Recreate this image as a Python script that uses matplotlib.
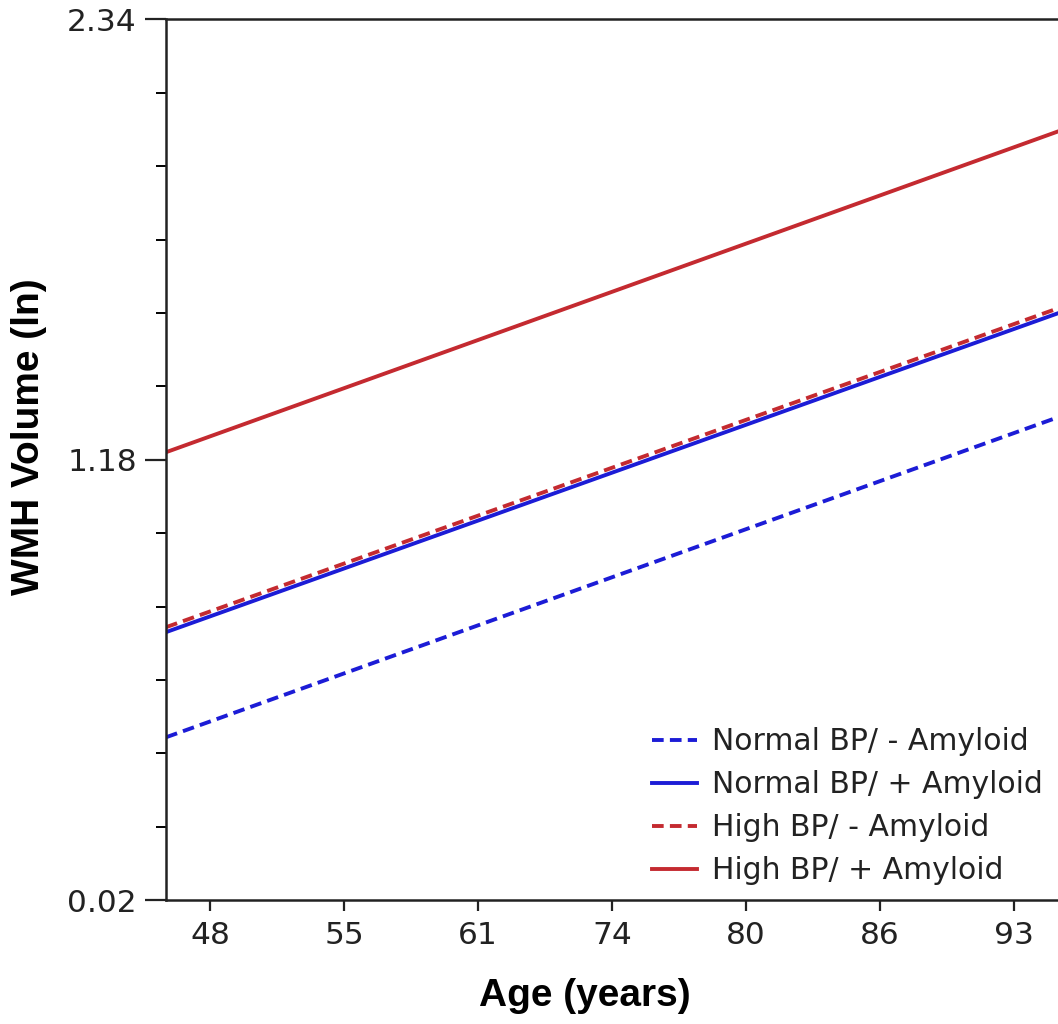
import numpy as np
import matplotlib
matplotlib.use("Agg")
import matplotlib.pyplot as plt
from matplotlib.ticker import FixedLocator

# data (line end values at the plot edges)
age_labels = ["48", "55", "61", "74", "80", "86", "93"]
x_ends = [-0.33, 6.33]
normal_neg = [0.449, 1.292]
normal_pos = [0.726, 1.566]
high_neg = [0.739, 1.579]
high_pos = [1.200, 2.045]
series_labels = ["Normal BP/ - Amyloid", "Normal BP/ + Amyloid",
                 "High BP/ - Amyloid", "High BP/ + Amyloid"]

blue = "#1c1cd6"
red = "#c42a30"
dash = (0, (3, 1.6))

fig = plt.figure(figsize=(10.58, 10.24), dpi=100)
ax = fig.add_axes([0.157, 0.121, 0.843, 0.860])

ax.plot(x_ends, normal_neg, color=blue, lw=2.8, ls=dash, label=series_labels[0])
ax.plot(x_ends, normal_pos, color=blue, lw=2.8, label=series_labels[1])
ax.plot(x_ends, high_neg, color=red, lw=2.8, ls=dash, label=series_labels[2])
ax.plot(x_ends, high_pos, color=red, lw=2.8, label=series_labels[3])

ax.set_xlim(x_ends[0], x_ends[1])
ax.set_ylim(0.02, 2.34)

ax.set_xticks(range(len(age_labels)))
ax.set_xticklabels(age_labels)
ax.yaxis.set_major_locator(FixedLocator([0.02, 1.18, 2.34]))
ax.set_yticklabels(["0.02", "1.18", "2.34"])
ax.yaxis.set_minor_locator(FixedLocator(np.linspace(0.02, 2.34, 13)))

ax.tick_params(axis="both", labelsize=22.5, width=1.6, colors="#222222")
ax.tick_params(axis="y", which="major", length=15, pad=6)
ax.tick_params(axis="y", which="minor", length=7.5, width=1.4)
ax.tick_params(axis="x", length=8, pad=7)

for s in ["left", "bottom", "top"]:
    ax.spines[s].set_linewidth(1.8)
    ax.spines[s].set_color("#222222")
ax.spines["right"].set_visible(False)

ax.set_xlabel("Age (years)", fontsize=28, fontweight="bold",
              family="Liberation Sans")
ax.set_ylabel("WMH Volume (ln)", fontsize=28, fontweight="bold",
              family="Liberation Sans")
ax.xaxis.set_label_coords(0.469, -0.088)
ax.yaxis.set_label_coords(-0.133, 0.526)

ax.legend(loc="lower right", frameon=False, fontsize=21.5, handlelength=1.5,
          handletextpad=0.5, labelspacing=0.47, borderaxespad=0.1,
          labelcolor="#222222")

fig.savefig("out.png", dpi=100)
